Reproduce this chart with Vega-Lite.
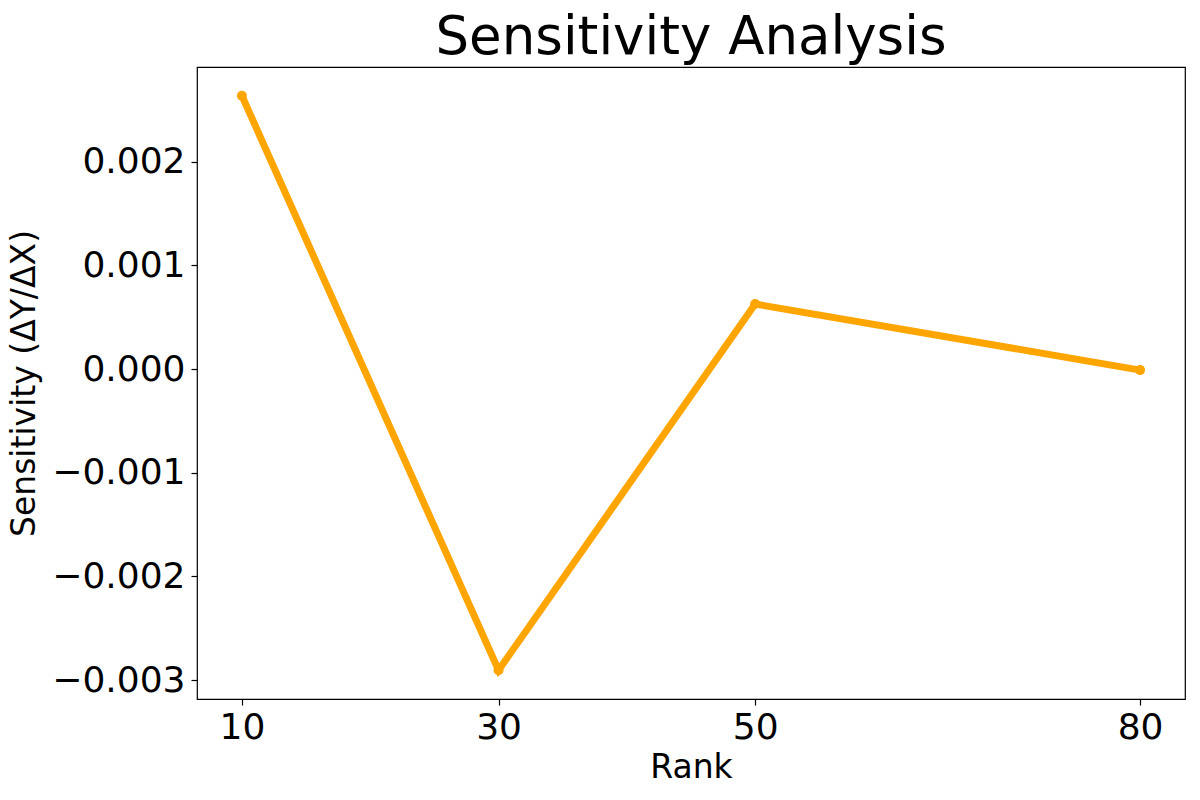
{
  "$schema": "https://vega.github.io/schema/vega-lite/v6.json",
  "width": 988,
  "height": 632,
  "autosize": {"type": "none"},
  "padding": {"left": 197, "top": 67, "right": 15, "bottom": 101},
  "background": "white",
  "config": {
    "font": "DejaVu Sans",
    "view": {"stroke": "black", "strokeWidth": 1.2},
    "axis": {"grid": false, "domain": false, "tickColor": "black", "tickSize": 6, "tickWidth": 1.2, "labelColor": "black", "titleColor": "black", "labelFont": "DejaVu Sans", "titleFont": "DejaVu Sans", "titleFontWeight": "normal", "labelFontSize": 36, "titleFontSize": 33}
  },
  "title": {"text": "Sensitivity Analysis", "fontSize": 53, "fontWeight": "normal", "font": "DejaVu Sans", "color": "black", "offset": 2, "anchor": "middle"},
  "data": {"values": [
    {"rank": 10, "sensitivity": 0.002636},
    {"rank": 30, "sensitivity": -0.002905},
    {"rank": 50, "sensitivity": 0.000627},
    {"rank": 80, "sensitivity": -0.000010}
  ]},
  "encoding": {
    "x": {"field": "rank", "type": "quantitative", "scale": {"domain": [6.5, 83.5], "nice": false, "zero": false}, "axis": {"values": [10, 30, 50, 80], "title": "Rank", "labelPadding": 5, "titlePadding": 6}},
    "y": {"field": "sensitivity", "type": "quantitative", "scale": {"domain": [-0.003182, 0.002913], "nice": false, "zero": false}, "axis": {"values": [-0.003, -0.002, -0.001, 0, 0.001, 0.002], "format": ".3f", "title": "Sensitivity (ΔY/ΔX)", "labelPadding": 6, "titlePadding": 10}}
  },
  "layer": [
    {"mark": {"type": "line", "color": "#FFA500", "strokeWidth": 7}},
    {"mark": {"type": "point", "filled": true, "color": "#FFA500", "opacity": 1, "size": 100}}
  ]
}
